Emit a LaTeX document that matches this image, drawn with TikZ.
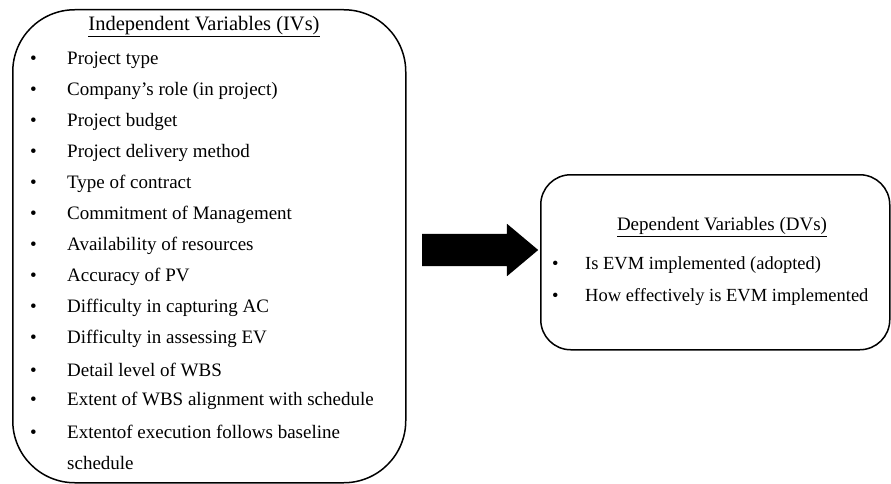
\documentclass[tikz,border=0pt]{standalone}
\usepackage{fontspec}
\setmainfont{Liberation Serif}
\usetikzlibrary{positioning,shapes.arrows}

\begin{document}
\begin{tikzpicture}[x=1pt, y=-1pt, font=\fontsize{19}{22}\selectfont,
        varbox/.style={draw, line width=1.5pt, anchor=north west},
        item/.style={anchor=west, inner sep=0pt}]
        \useasboundingbox (0,0) rectangle (891,484);

        \node[varbox, rounded corners=62pt, minimum width=393pt, minimum height=473pt] (IV) at (12,9) {};
        \node[font=\fontsize{20.5}{24}\selectfont] (IVtitle) at (204,27) {\underline{Independent Variables (IVs)}};
        \foreach \txt [count=\i] in {Project type, Company's role (in project), Project budget,
                Project delivery method, Type of contract, Commitment of Management,
                Availability of resources, Accuracy of PV, Difficulty in capturing AC,
                Difficulty in assessing EV, Detail level of WBS,
                Extent of WBS alignment with schedule, Extentof execution follows baseline}
            \node[item] (iv\i) at (30,{60+(\i-1)*31}) {\makebox[37pt][l]{\textbullet}\txt};
        \node[item] (iv14) at (67,463) {schedule};

        \node[single arrow, fill=black, inner sep=0pt, minimum height=116pt, text height=16pt, text depth=16pt,
            single arrow head extend=10pt, single arrow tip angle=80, anchor=tail] (arr) at (422,250) {};

        \node[varbox, rounded corners=30pt, minimum width=349pt, minimum height=175pt] (DV) at (540,174) {};
        \node[] (DVtitle) at (722,227) {\underline{Dependent Variables (DVs)}};
        \node[item, font=\fontsize{18.5}{22}\selectfont] (dv1) at (552,265) {\makebox[33pt][l]{\textbullet}Is EVM implemented (adopted)};
        \node[item, font=\fontsize{18.5}{22}\selectfont] (dv2) at (552,297) {\makebox[33pt][l]{\textbullet}How effectively is EVM implemented};
    \end{tikzpicture}
\end{document}
